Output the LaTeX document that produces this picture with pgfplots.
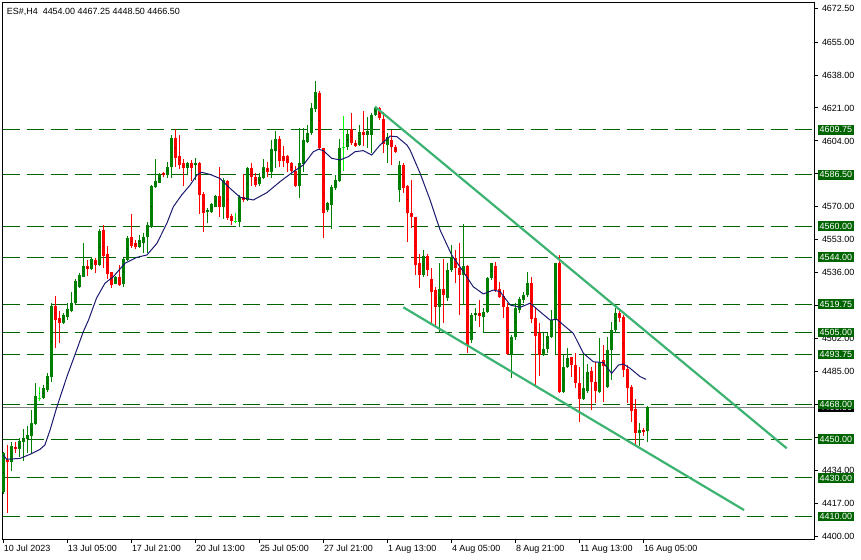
\documentclass[border=0pt]{standalone}
\usepackage{pgfplots}
\pgfplotsset{compat=1.18}
\usepackage{pgfplotstable}
\usepackage{fontspec}
\setmainfont{Liberation Sans}
\definecolor{upc}{RGB}{0,128,0}
\definecolor{dnc}{RGB}{255,0,0}
\definecolor{dojic}{RGB}{0,255,0}
\definecolor{lvl}{RGB}{0,100,0}
\definecolor{trend}{RGB}{60,179,113}
\definecolor{mac}{RGB}{25,25,112}
\definecolor{pricec}{RGB}{128,128,128}
\newcommand{\lbl}{\fontsize{9}{10}\selectfont}
\pgfplotsset{
  ebar/.style 2 args={only marks, mark=*, mark size=0.01bp, mark options={draw=none, fill=none},
    error bars/y dir=both, error bars/y explicit, error bars/error mark=none,
    error bars/error bar style={line width=#2, draw=#1, solid}},
  lev/.style={lvl, line width=1.1bp, dash pattern=on 17bp off 7bp},
}
\tikzset{box/.style={fill=#1, text=white, anchor=west, inner sep=0pt, minimum height=9.5bp, minimum width=36.7bp, font=\lbl}}
\pgfplotstableread{
i o h l c
0 4422.9 4443.5 4421.5 4442.7
1 4439.5 4447.0 4412.0 4438.2
2 4438.4 4448.7 4433.7 4446.5
3 4446.1 4448.4 4442.7 4444.8
4 4444.8 4450.5 4441.0 4449.2
5 4448.7 4455.3 4438.9 4450.8
6 4450.0 4456.8 4442.7 4452.2
7 4451.8 4465.1 4443.0 4458.2
8 4457.9 4479.2 4457.3 4472.3
9 4471.0 4477.1 4469.9 4471.0
10 4471.1 4478.0 4470.6 4476.3
11 4475.4 4484.0 4474.5 4482.6
12 4482.3 4520.2 4479.7 4518.9
13 4518.9 4523.9 4497.1 4511.5
14 4512.7 4516.2 4499.8 4509.8
15 4510.1 4515.0 4509.5 4514.1
16 4513.2 4520.5 4511.5 4517.2
17 4516.2 4525.8 4515.8 4520.5
18 4520.5 4532.6 4519.7 4531.5
19 4528.7 4536.0 4527.9 4534.8
20 4533.9 4551.5 4533.6 4539.6
21 4539.6 4542.5 4534.3 4537.9
22 4537.9 4544.2 4537.6 4542.9
23 4542.5 4543.4 4536.0 4540.0
24 4540.0 4558.4 4539.6 4557.5
25 4558.0 4560.6 4538.2 4544.7
26 4545.5 4549.8 4532.6 4535.1
27 4536.2 4536.5 4527.9 4529.6
28 4530.1 4534.4 4530.0 4533.9
29 4533.9 4540.0 4529.1 4529.6
30 4530.1 4543.4 4528.4 4542.9
31 4542.5 4554.9 4542.2 4554.0
32 4554.2 4566.1 4548.9 4549.8
33 4551.5 4552.9 4548.0 4549.4
34 4549.1 4555.4 4548.6 4552.9
35 4551.5 4556.3 4546.3 4554.5
36 4554.5 4562.3 4546.0 4560.6
37 4559.4 4581.3 4558.9 4580.7
38 4580.4 4594.7 4579.5 4583.3
39 4582.4 4587.3 4582.1 4586.8
40 4587.6 4588.1 4585.2 4586.4
41 4586.4 4593.3 4584.7 4590.7
42 4590.7 4607.1 4584.7 4605.7
43 4605.7 4610.0 4590.7 4595.0
44 4596.2 4607.1 4589.3 4591.6
45 4592.8 4594.5 4580.9 4590.2
46 4590.2 4593.3 4586.8 4592.4
47 4592.4 4594.2 4583.3 4589.9
48 4591.6 4595.2 4583.8 4592.4
49 4592.4 4593.3 4566.3 4576.1
50 4576.6 4577.8 4557.1 4566.9
51 4567.5 4569.2 4561.8 4568.3
52 4567.5 4571.8 4566.9 4571.3
53 4570.0 4576.1 4569.7 4575.6
54 4575.6 4590.7 4564.9 4570.0
55 4570.0 4584.7 4563.7 4583.8
56 4583.5 4583.8 4563.2 4564.0
57 4565.2 4566.3 4560.6 4562.8
58 4562.3 4566.6 4561.5 4562.3
59 4562.3 4576.1 4559.7 4575.2
60 4575.2 4586.9 4572.6 4573.5
61 4573.5 4590.7 4573.1 4589.9
62 4589.9 4592.8 4580.7 4585.2
63 4585.5 4587.3 4580.4 4581.2
64 4581.8 4587.3 4580.7 4585.5
65 4584.7 4594.5 4584.2 4590.4
66 4590.2 4593.3 4585.5 4588.1
67 4588.1 4604.5 4584.7 4599.7
68 4599.0 4609.1 4590.2 4605.0
69 4605.0 4606.5 4590.7 4593.8
70 4596.2 4601.4 4590.4 4593.8
71 4596.2 4596.7 4588.1 4592.4
72 4592.4 4593.3 4587.3 4588.5
73 4588.5 4591.1 4580.4 4580.7
74 4580.7 4610.5 4574.4 4592.4
75 4592.1 4610.5 4588.1 4604.5
76 4603.6 4612.2 4602.8 4608.3
77 4608.0 4623.4 4607.1 4621.2
78 4620.3 4634.9 4619.1 4629.4
79 4628.6 4629.8 4599.3 4600.2
80 4600.2 4600.3 4553.7 4566.6
81 4568.3 4572.6 4567.5 4571.8
82 4570.9 4581.2 4558.4 4580.2
83 4579.5 4586.4 4578.7 4583.8
84 4583.5 4604.8 4583.0 4600.2
85 4600.7 4616.9 4588.6 4600.7
86 4600.7 4610.0 4599.3 4607.6
87 4610.0 4618.3 4601.9 4602.8
88 4602.8 4604.5 4600.7 4601.4
89 4601.9 4612.2 4601.4 4608.8
90 4608.8 4619.6 4601.4 4607.1
91 4607.1 4616.4 4600.4 4609.1
92 4607.1 4618.3 4597.6 4617.4
93 4617.4 4622.0 4616.9 4620.8
94 4620.8 4621.7 4614.8 4615.7
95 4615.3 4619.0 4597.8 4602.4
96 4601.9 4607.9 4592.4 4606.2
97 4604.5 4609.6 4591.6 4601.0
98 4600.7 4601.9 4597.6 4598.4
99 4578.7 4593.6 4572.6 4591.6
100 4591.6 4592.4 4577.0 4579.5
101 4580.7 4581.2 4552.0 4566.6
102 4566.6 4583.8 4558.9 4564.9
103 4564.6 4564.9 4534.8 4539.9
104 4541.1 4545.6 4527.9 4534.8
105 4534.8 4547.7 4533.9 4544.6
106 4544.7 4545.6 4534.3 4537.3
107 4532.7 4538.2 4509.8 4526.2
108 4527.0 4528.7 4508.1 4518.1
109 4518.1 4541.1 4505.5 4527.4
110 4527.4 4542.9 4509.8 4524.4
111 4522.7 4541.1 4521.5 4537.4
112 4537.4 4550.3 4536.5 4544.2
113 4543.4 4547.7 4530.5 4538.2
114 4538.2 4551.1 4514.1 4534.8
115 4534.8 4561.1 4519.3 4539.4
116 4539.4 4540.0 4494.3 4498.6
117 4501.2 4515.0 4499.5 4514.1
118 4514.0 4517.6 4511.0 4515.3
119 4515.0 4521.9 4508.1 4513.6
120 4513.3 4517.6 4504.7 4515.8
121 4515.8 4533.9 4515.3 4533.1
122 4533.1 4541.1 4532.2 4540.8
123 4539.4 4541.6 4526.2 4527.0
124 4527.4 4531.3 4522.7 4523.6
125 4524.0 4527.0 4512.4 4518.4
126 4518.4 4520.2 4493.5 4494.0
127 4494.0 4503.8 4481.4 4502.9
128 4502.9 4520.2 4501.2 4517.6
129 4516.7 4523.6 4515.0 4522.2
130 4521.9 4526.2 4520.2 4524.4
131 4524.4 4536.5 4523.6 4530.5
132 4530.5 4533.9 4509.8 4511.9
133 4512.4 4517.6 4478.0 4503.3
134 4504.7 4509.8 4482.6 4493.5
135 4493.5 4504.7 4493.0 4496.4
136 4496.4 4504.7 4494.3 4503.1
137 4502.9 4516.7 4502.1 4511.5
138 4511.5 4541.1 4493.8 4541.0
139 4540.8 4545.1 4473.7 4474.5
140 4474.5 4493.5 4473.7 4487.4
141 4487.4 4496.9 4486.6 4492.1
142 4492.3 4492.6 4482.3 4488.3
143 4488.3 4494.4 4476.3 4478.9
144 4478.9 4487.4 4459.0 4470.6
145 4470.6 4493.8 4470.2 4476.3
146 4475.0 4488.8 4474.0 4484.9
147 4485.2 4487.4 4465.1 4479.7
148 4479.7 4490.0 4468.5 4475.0
149 4474.5 4502.1 4473.7 4489.6
150 4490.9 4498.6 4469.2 4487.8
151 4477.1 4502.9 4476.3 4496.1
152 4496.1 4510.7 4480.6 4506.5
153 4506.4 4517.6 4504.7 4515.0
154 4515.3 4517.6 4510.7 4512.4
155 4513.0 4514.1 4482.3 4485.7
156 4486.1 4488.3 4468.5 4476.6
157 4477.1 4478.0 4459.0 4464.7
158 4465.6 4470.6 4447.0 4453.0
159 4453.4 4458.5 4446.5 4454.8
160 4454.8 4455.6 4451.7 4453.9
161 4454.0 4467.25 4448.5 4466.5
}\bars
\pgfplotstableread{
x y
0 4441.8
0.85 4439.6
4.2 4440.1
6.7 4442.2
9.2 4444.8
10.4 4447.0
11.7 4454.8
13.3 4466.0
15.9 4482.3
17.9 4493.5
20 4505.5
21.3 4511.5
23.3 4522.8
25.4 4530.5
27.5 4533.9
30.4 4540.8
33.4 4543.9
35.9 4545.1
38.4 4551.1
40.9 4561.5
42.5 4570.0
44.6 4576.1
46.7 4581.2
48.4 4586.4
49.6 4587.8
51.7 4586.7
54.2 4584.6
56.7 4579.5
59.2 4574.9
62.5 4573.5
65.9 4577.3
69.2 4583.0
72.5 4588.1
75 4591.6
77.5 4598.4
78.8 4599.7
80 4599.0
82.1 4595.0
84.2 4594.2
86.3 4595.9
87.9 4598.4
90 4599.0
92.1 4596.7
94.2 4601.9
96.7 4606.5
98.4 4606.2
100.9 4601.9
101.7 4599.3
104.2 4587.3
106.7 4573.5
109.2 4558.0
112.1 4545.1
115 4536.5
117.5 4528.7
120 4525.0
122.5 4527.0
124.2 4526.2
126.7 4519.3
129.2 4518.1
131.7 4520.2
134.2 4515.8
136.7 4511.5
138.4 4511.9
140 4509.0
142.5 4504.7
145 4494.4
147.5 4490.0
150 4489.5
152.1 4484.0
153.8 4488.3
155 4488.8
156.7 4486.6
159.2 4482.3
160.7 4480.9
}\ma
\begin{document}
\begin{tikzpicture}
\begin{axis}[
  at={(0,0)}, anchor=south west,
  scale only axis, width=811.8bp, height=536.3bp,
  xmin=-0.2, xmax=202.75, ymin=4398.47, ymax=4675.37,
  clip=false,
  axis line style={black, line width=1bp},
  tick style={black, line width=1bp},
  tick align=outside,
  major tick length=3.5bp,
  xtick pos=left,
  xtick={0,16,32,48,64,80,96,112,128,144,160},
  xticklabels={10 Jul 2023, 13 Jul 05:00, 17 Jul 21:00, 20 Jul 13:00, 25 Jul 05:00, 27 Jul 21:00, 1 Aug 13:00, 4 Aug 05:00, 8 Aug 21:00, 11 Aug 13:00, 16 Aug 05:00},
  xticklabel style={anchor=north west, inner sep=0pt, font=\lbl, xshift=0.5bp, yshift=-2.5bp},
  ytick pos=right, yticklabel pos=right,
  ytick={4400,4417,4434,4451,4468,4485,4502,4519,4536,4553,4570,4587,4604,4621,4638,4655,4672.5},
  yticklabels={4400.00,4417.00,4434.00,,,4485.00,4502.00,,4536.00,4553.00,4570.00,,4604.00,4621.00,4638.00,4655.00,4672.50},
  yticklabel style={anchor=west, inner sep=0pt, xshift=4bp, font=\lbl},
]
% levels
\addplot[lev] coordinates {(-0.2,4609.75) (202.75,4609.75)};
\addplot[lev] coordinates {(-0.2,4586.5) (202.75,4586.5)};
\addplot[lev] coordinates {(-0.2,4560) (202.75,4560)};
\addplot[lev] coordinates {(-0.2,4544) (202.75,4544)};
\addplot[lev] coordinates {(-0.2,4519.75) (202.75,4519.75)};
\addplot[lev] coordinates {(-0.2,4505) (202.75,4505)};
\addplot[lev] coordinates {(-0.2,4493.75) (202.75,4493.75)};
\addplot[lev] coordinates {(-0.2,4468) (202.75,4468)};
\addplot[lev] coordinates {(-0.2,4450) (202.75,4450)};
\addplot[lev] coordinates {(-0.2,4430) (202.75,4430)};
\addplot[lev] coordinates {(-0.2,4410) (202.75,4410)};
\addplot[pricec, line width=1bp] coordinates {(-0.2,4466.5) (202.75,4466.5)};
% wicks
\addplot[ebar={upc}{1bp}] table[x=i, y expr={(\thisrow{c}>\thisrow{o}) ? (\thisrow{h}+\thisrow{l})/2 : nan}, y error expr={(\thisrow{h}-\thisrow{l})/2}] {\bars};
\addplot[ebar={dnc}{1bp}] table[x=i, y expr={(\thisrow{c}<\thisrow{o}) ? (\thisrow{h}+\thisrow{l})/2 : nan}, y error expr={(\thisrow{h}-\thisrow{l})/2}] {\bars};
\addplot[ebar={dojic}{1bp}] table[x=i, y expr={(\thisrow{c}==\thisrow{o}) ? (\thisrow{h}+\thisrow{l})/2 : nan}, y error expr={(\thisrow{h}-\thisrow{l})/2}] {\bars};
% bodies
\addplot[ebar={upc}{3bp}] table[x=i, y expr={(\thisrow{c}>\thisrow{o}) ? (\thisrow{o}+\thisrow{c})/2 : nan}, y error expr={abs(\thisrow{c}-\thisrow{o})/2}] {\bars};
\addplot[ebar={dnc}{3bp}] table[x=i, y expr={(\thisrow{c}<\thisrow{o}) ? (\thisrow{o}+\thisrow{c})/2 : nan}, y error expr={abs(\thisrow{c}-\thisrow{o})/2}] {\bars};
\addplot[only marks, mark=-, mark size=1.6bp, mark options={dojic, line width=1bp}] table[x=i, y expr={(\thisrow{c}==\thisrow{o}) ? \thisrow{o} : nan}] {\bars};
% moving average
\addplot[mac, line width=1bp] table[x=x, y=y] {\ma};
% channel
\addplot[trend, line width=2.2bp] coordinates {(92.9,4621.7) (195.85,4445.3)};
\addplot[trend, line width=2.2bp] coordinates {(100,4518.1) (185.2,4413.4)};
% right labels
\node[box=black] at (axis cs:203.5,4466.5) {4466.50};
\node[box=lvl] at (axis cs:203.5,4609.75) {4609.75};
\node[box=lvl] at (axis cs:203.5,4586.5) {4586.50};
\node[box=lvl] at (axis cs:203.5,4560) {4560.00};
\node[box=lvl] at (axis cs:203.5,4544) {4544.00};
\node[box=lvl] at (axis cs:203.5,4519.75) {4519.75};
\node[box=lvl] at (axis cs:203.5,4505) {4505.00};
\node[box=lvl] at (axis cs:203.5,4493.75) {4493.75};
\node[box=lvl] at (axis cs:203.5,4468) {4468.00};
\node[box=lvl] at (axis cs:203.5,4450) {4450.00};
\node[box=lvl] at (axis cs:203.5,4430) {4430.00};
\node[box=lvl] at (axis cs:203.5,4410) {4410.00};
\end{axis}
\node[anchor=base west, inner sep=0pt, font=\lbl] at (4.2bp,524.7bp) {ES\#,H4\ \ 4454.00 4467.25 4448.50 4466.50};
\pgfresetboundingbox
\path[use as bounding box] (-2.5bp,-21bp) rectangle (858.5bp,539bp);
\end{tikzpicture}
\end{document}
